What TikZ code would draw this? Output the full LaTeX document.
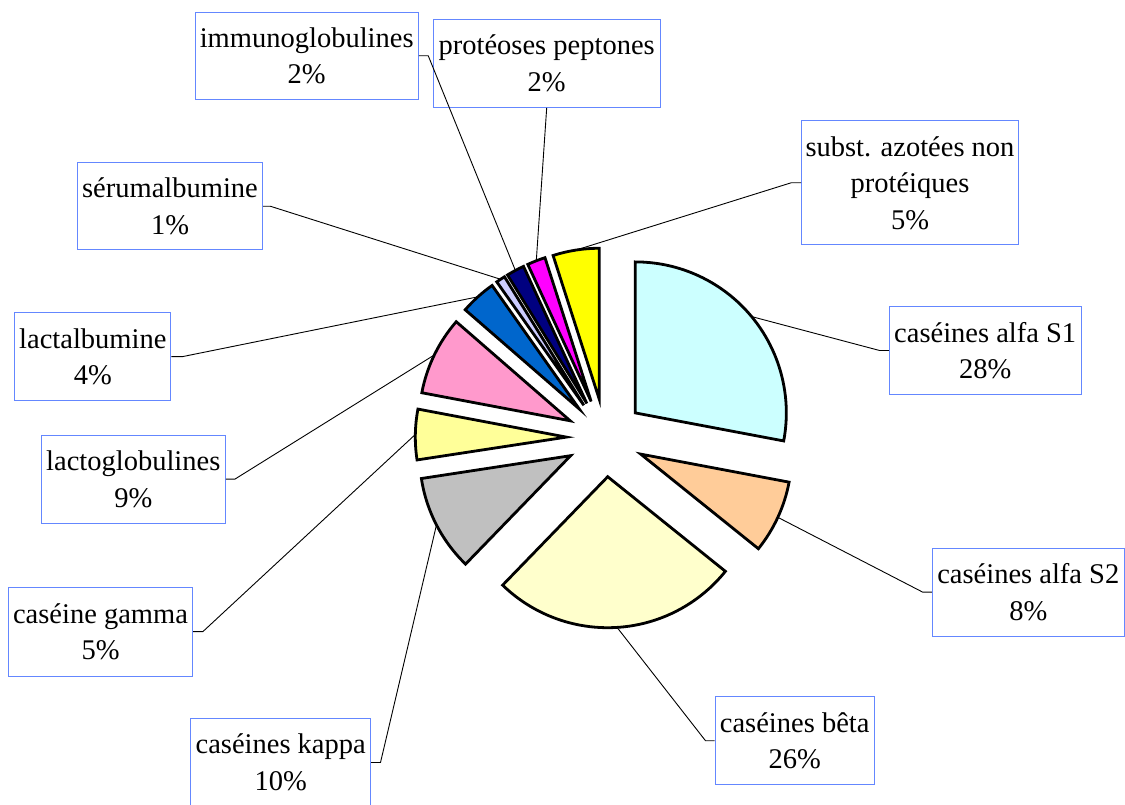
\documentclass[tikz,border=0pt]{standalone}
\usepackage{fontspec}
\setmainfont{Liberation Serif}
\usetikzlibrary{calc}
\definecolor{labelblue}{RGB}{100,135,255}
\definecolor{cSone}{HTML}{CCFFFF}
\definecolor{cStwo}{HTML}{FFCC99}
\definecolor{cBeta}{HTML}{FFFFCC}
\definecolor{cKappa}{HTML}{C0C0C0}
\definecolor{cGamma}{HTML}{FFFF99}
\definecolor{cLacto}{HTML}{FF99CC}
\definecolor{cLalb}{HTML}{0066CC}
\definecolor{cSerum}{HTML}{CCCCFF}
\definecolor{cImmuno}{HTML}{000080}
\definecolor{cProteo}{HTML}{FF00FF}
\definecolor{cSubst}{HTML}{FFFF00}
\begin{document}
\begin{tikzpicture}[x=1pt,y=1pt,
  slice/.style={draw=black, line width=2.8pt, line join=miter},
  lbl/.style={draw=labelblue, line width=1pt, align=center, inner sep=0pt,
    font=\fontsize{28.5}{36.5}\selectfont},
  leader/.style={draw=black, line width=0.9pt}]
\useasboundingbox (0,0) rectangle (1125,805);
\coordinate (C) at (605.3,367.2);
\def\off{39}
\def\rad{151}
\def\slices{s1/-10.7/90/cSone, s2/-38.8/-10.7/cStwo, be/-134.1/-38.8/cBeta,
  ka/-171.3/-134.1/cKappa, ga/-190.7/-171.3/cGamma, lg/-221/-190.7/cLacto,
  la/-234.8/-221/cLalb, sa/-238.3/-234.8/cSerum, ig/-245.2/-238.3/cImmuno,
  pp/-252.2/-245.2/cProteo, sub/-270/-252.2/cSubst}

% apex and outer mid point of every exploded slice
\foreach \n/\a/\b/\c in \slices {
  \pgfmathsetmacro\m{(\a+\b)/2}
  \pgfmathsetmacro\R{\off+\rad}
  \coordinate (apex-\n) at ($(C)+(\m:\off)$);
  \coordinate (out-\n) at ($(C)+(\m:\R)$);
}

% labels
\node[lbl, minimum width=223.3pt, minimum height=87pt]   (l-ig)  at (306.7,749.2) {immunoglobulines\\2\%};
\node[lbl, minimum width=226.7pt, minimum height=88pt]   (l-pp)  at (546.7,741.7) {protéoses peptones\\2\%};
\node[lbl, minimum width=216.7pt, minimum height=124.3pt] (l-sub) at (910,622.2) {subst. azotées non\\protéiques\\5\%};
\node[lbl, minimum width=191.7pt, minimum height=87.6pt] (l-s1)  at (985.2,454.5) {caséines alfa S1\\28\%};
\node[lbl, minimum width=192pt, minimum height=87.7pt]   (l-s2)  at (1028.3,212.8) {caséines alfa S2\\8\%};
\node[lbl, minimum width=159.3pt, minimum height=88.3pt] (l-be)  at (794.7,64.2) {caséines bêta\\26\%};
\node[lbl, minimum width=180pt, minimum height=87pt]     (l-ka)  at (280.7,42.5) {caséines kappa\\10\%};
\node[lbl, minimum width=184.4pt, minimum height=88.7pt] (l-ga)  at (100.5,173.3) {caséine gamma\\5\%};
\node[lbl, minimum width=184pt, minimum height=88.3pt]   (l-lg)  at (133.3,325.8) {lactoglobulines\\9\%};
\node[lbl, minimum width=156.3pt, minimum height=88pt]   (l-la)  at (92.8,448.3) {lactalbumine\\4\%};
\node[lbl, minimum width=185.4pt, minimum height=87.3pt] (l-sa)  at (170,598.7) {sérumalbumine\\1\%};

% leader lines
\draw[leader] (l-ig.east) -- ++(9.4,0) -- (out-ig);
\draw[leader] (l-pp.south) -- (out-pp);
\draw[leader] (l-sub.west) -- ++(-10,0) -- (out-sub);
\draw[leader] (l-s1.west) -- ++(-9.3,0) -- (out-s1);
\draw[leader] (l-s2.west) -- ++(-9,0) -- (out-s2);
\draw[leader] (l-be.west) -- ++(-9,0) -- (out-be);
\draw[leader] (l-ka.east) -- ++(9.3,0) -- (out-ka);
\draw[leader] (l-ga.east) -- ++(9.6,0) -- (out-ga);
\draw[leader] (l-lg.east) -- ++(9,0) -- (out-lg);
\draw[leader] (l-la.east) -- ++(10.7,0) -- (out-la);
\draw[leader] (l-sa.east) -- ++(7.3,0) -- (out-sa);

% slices
\foreach \n/\a/\b/\c in \slices {
  \draw[slice, fill=\c] (apex-\n) -- ++(\a:\rad) arc[start angle=\a, end angle=\b, radius=\rad] -- cycle;
}
\end{tikzpicture}
\end{document}
